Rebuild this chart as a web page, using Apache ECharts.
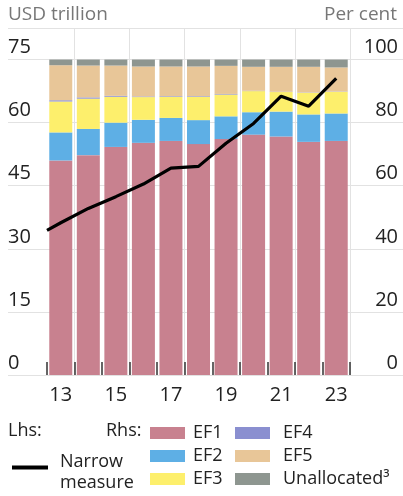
<!DOCTYPE html>
<html>
<head>
<meta charset="utf-8">
<script src="https://cdn.jsdelivr.net/npm/echarts@6/dist/echarts.min.js"></script>
<style>
  html, body { margin: 0; padding: 0; background: #fff; }
  #chart { width: 403px; height: 496px; }
</style>
</head>
<body>
<div id="chart"></div>
<script>
// categories (years, 2013-2023)
var years = ['13', '14', '15', '16', '17', '18', '19', '20', '21', '22', '23'];

// rhs, per cent of total
var ef1 = [68.0, 69.7, 72.3, 73.6, 74.2, 73.2, 74.8, 76.2, 75.6, 73.9, 74.2];
var ef2 = [8.9, 8.3, 7.7, 7.3, 7.3, 7.6, 7.2, 7.1, 7.9, 8.7, 8.7];
var ef3 = [9.8, 9.6, 8.2, 7.2, 6.7, 7.4, 6.9, 6.7, 6.2, 6.9, 6.9];
var ef4 = [0.4, 0.4, 0.3, 0.2, 0.2, 0.2, 0.2, 0.1, 0.1, 0.1, 0.1];
var ef5 = [11.1, 10.1, 9.6, 9.5, 9.4, 9.4, 8.9, 7.6, 7.9, 8.1, 7.6];
var unalloc = [1.8, 1.9, 1.9, 2.2, 2.2, 2.2, 2.0, 2.3, 2.3, 2.3, 2.5];

// lhs, USD trillion
var lineYears = [12.5, 13, 14, 15, 16, 17, 18, 19, 20, 21, 22, 23];
var narrow = [34.4, 36.2, 39.6, 42.4, 45.4, 49.2, 49.6, 55.1, 59.8, 66.3, 63.9, 70.5];

var lhsStep = 15, lhsMax = 75;
var rhsStep = 20, rhsMax = 100;

var FONT = 'Open Sans';
var chart = echarts.init(document.getElementById('chart'));

var barNames = ['EF1', 'EF2', 'EF3', 'EF4', 'EF5', 'Unallocated³'];
var barData = [ef1, ef2, ef3, ef4, ef5, unalloc];
var barColors = ['#c8818f', '#5eafe5', '#fdef6c', '#8a8fd0', '#e8c698', '#8e9690'];

var series = barNames.map(function (n, i) {
    return {
        name: n,
        type: 'bar',
        stack: 'rhs',
        xAxisIndex: 1,
        yAxisIndex: 3,
        barWidth: 23,
        itemStyle: { color: barColors[i] },
        data: barData[i]
    };
});
series.push({
    name: 'Narrow measure',
    type: 'line',
    xAxisIndex: 2,
    yAxisIndex: 2,
    symbol: 'none',
    z: 5,
    lineStyle: { color: '#000', width: 3.2 },
    itemStyle: { color: '#000' },
    data: lineYears.map(function (y, i) { return [y, narrow[i]]; })
});

var option = {
    animation: false,
    textStyle: { fontFamily: FONT },
    grid: [
        { left: 8, right: 0, top: 28, bottom: 121 },
        { left: 47, right: 53, top: 28, bottom: 121 }
    ],
    xAxis: [
        { gridIndex: 0, type: 'value', show: false, min: 0, max: 1 },
        {
            gridIndex: 1,
            type: 'category',
            data: years,
            axisLine: { show: false },
            axisTick: { show: true, inside: true, length: 13, interval: 0, lineStyle: { color: '#333', width: 1.5 } },
            axisLabel: { interval: 1, color: '#222', fontSize: 20, margin: 10, fontFamily: FONT },
            splitLine: {
                show: true,
                interval: function (i) { return i % 2 === 1; },
                lineStyle: { color: '#e2e2e2', width: 1 }
            }
        },
        { gridIndex: 1, type: 'value', show: false, min: 12.5, max: 23.5 }
    ],
    yAxis: [
        {
            gridIndex: 0, type: 'value', position: 'left',
            min: 0, max: lhsMax * 1.1, interval: lhsStep,
            axisLine: { show: false }, axisTick: { show: false },
            axisLabel: {
                inside: true, margin: 0, fontSize: 20, color: '#222', fontFamily: FONT,
                verticalAlign: 'bottom', padding: [0, 0, 2, 0],
                formatter: function (v) { return (v % lhsStep === 0 && v <= lhsMax) ? v : ''; }
            },
            splitLine: { lineStyle: { color: '#e2e2e2', width: 1 } }
        },
        {
            gridIndex: 0, type: 'value', position: 'right',
            min: 0, max: rhsMax * 1.1, interval: rhsStep,
            axisLine: { show: false }, axisTick: { show: false },
            axisLabel: {
                inside: true, margin: 5, fontSize: 20, color: '#222', fontFamily: FONT,
                verticalAlign: 'bottom', padding: [0, 0, 2, 0],
                formatter: function (v) { return (v % rhsStep === 0 && v <= rhsMax) ? v : ''; }
            },
            splitLine: { show: false }
        },
        { gridIndex: 1, type: 'value', show: false, min: 0, max: lhsMax * 1.1 },
        { gridIndex: 1, type: 'value', show: false, min: 0, max: rhsMax * 1.1 }
    ],
    legend: [
        {
            left: 12, top: 446, padding: 0, orient: 'vertical',
            icon: 'rect', itemWidth: 36, itemHeight: 4,
            data: ['Narrow measure'],
            formatter: function () { return '{s| }\n{t|Narrow}\n{t|measure}'; },
            textStyle: {
                fontSize: 18, color: '#222', fontFamily: FONT,
                rich: {
                    s: { fontSize: 1, lineHeight: 9 },
                    t: { fontSize: 18, color: '#222', fontFamily: FONT, lineHeight: 21, padding: [0, 0, 0, 7] }
                }
            }
        },
        {
            left: 150, top: 424, padding: 0, orient: 'vertical', itemGap: 5,
            icon: 'rect', itemWidth: 35, itemHeight: 12,
            data: ['EF1', 'EF2', 'EF3'],
            textStyle: { fontSize: 18, color: '#222', fontFamily: FONT, padding: [0, 0, 0, 3] }
        },
        {
            left: 235, top: 424, padding: 0, orient: 'vertical', itemGap: 5,
            icon: 'rect', itemWidth: 35, itemHeight: 12,
            data: ['EF4', 'EF5', 'Unallocated³'],
            textStyle: { fontSize: 18, color: '#222', fontFamily: FONT, padding: [0, 0, 0, 8] }
        }
    ],
    graphic: [
        { type: 'text', left: 8, top: 5, style: { text: 'USD trillion', font: '19px "Open Sans"', fill: '#777' } },
        { type: 'text', right: 6, top: 5, style: { text: 'Per cent', font: '19px "Open Sans"', fill: '#777' } },
        { type: 'text', left: 8, top: 422, style: { text: 'Lhs:', font: '18px "Open Sans"', fill: '#222' } },
        { type: 'text', left: 106, top: 422, style: { text: 'Rhs:', font: '18px "Open Sans"', fill: '#222' } }
    ],
    series: series
};

chart.setOption(option);
</script>
</body>
</html>
